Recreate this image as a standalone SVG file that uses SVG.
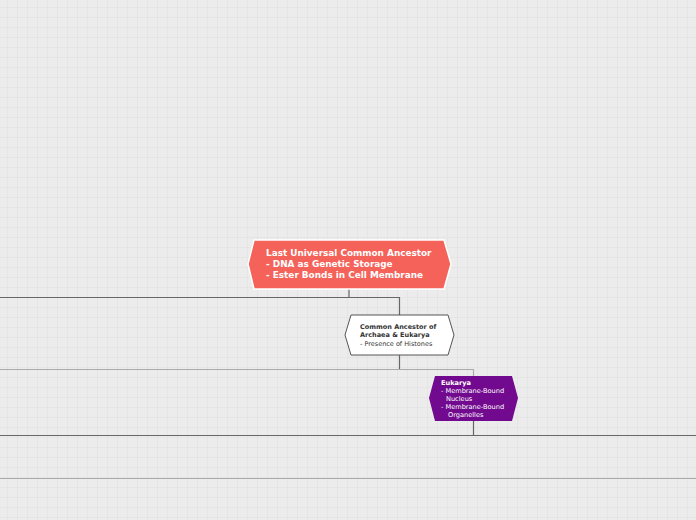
<svg xmlns="http://www.w3.org/2000/svg" width="696" height="520" viewBox="0 0 696 520">
<defs>
<pattern id="grid" width="10" height="10" patternUnits="userSpaceOnUse" x="-3" y="-3">
<rect width="10" height="10" fill="#ececec"/>
<path d="M0 0.5H10M0.5 0V10" stroke="#e5e5e5" stroke-width="1" fill="none"/>
</pattern>
<style>
.dark{stroke:#666;stroke-width:1.2;fill:none}
.light{stroke:#aaa;stroke-width:1.2;fill:none}
.t{font-family:"DejaVu Sans","Verdana",sans-serif}
.b{font-weight:bold}
</style>
</defs>
<rect width="696" height="520" fill="url(#grid)"/>
<g id="connectors">
<path class="dark" d="M349 289V297.5M0 297.5H399.5V315"/>
<path class="dark" d="M399.5 355V369"/>
<path class="light" d="M0 369.5H473.5V376"/>
<path class="dark" d="M473.5 421V435.5M0 435.5H696"/>
<path class="light" d="M0 478.5H696"/>
</g>
<g id="luca">
<polygon points="254,240 444,240 451,264 444,289 254,289 248,264" fill="#f4625a" stroke="#ffffff" stroke-width="1.5"/>
<text class="t b" font-size="8.9" fill="#ffffff"><tspan x="266" y="256">Last Universal Common Ancestor</tspan><tspan x="266" y="267">- DNA as Genetic Storage</tspan><tspan x="266" y="278">- Ester Bonds in Cell Membrane</tspan></text>
</g>
<g id="common-ancestor">
<polygon points="351,315 448,315 454,335 448,355 351,355 345,335" fill="#ffffff" stroke="#555555" stroke-width="1"/>
<text class="t" font-size="6.5" fill="#333333"><tspan class="b" x="360" y="329">Common Ancestor of</tspan><tspan class="b" x="360" y="337">Archaea &amp; Eukarya</tspan><tspan x="360" y="346">- Presence of Histones</tspan></text>
</g>
<g id="eukarya">
<polygon points="435,376 512,376 518,398 512,421 435,421 429,398" fill="#710a8e"/>
<text class="t" font-size="6.6" fill="#ffffff"><tspan class="b" x="441" y="385">Eukarya</tspan><tspan x="441" y="393">- Membrane-Bound</tspan><tspan x="446" y="401">Nucleus</tspan><tspan x="441" y="409">- Membrane-Bound</tspan><tspan x="448" y="417">Organelles</tspan></text>
</g>
</svg>
